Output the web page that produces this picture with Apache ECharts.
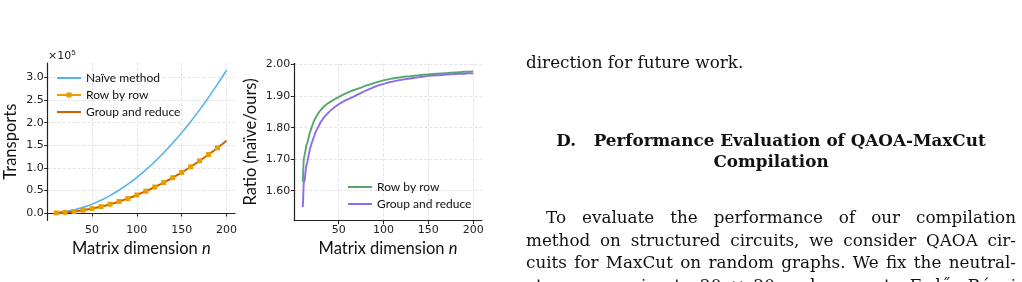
<!DOCTYPE html>
<html>
<head>
<meta charset="utf-8">
<script src="https://cdn.jsdelivr.net/npm/echarts@6/dist/echarts.min.js"></script>
<style>
  html, body { margin: 0; padding: 0; background: #fff; overflow: hidden; }
  #chart { position: absolute; left: 0; top: 0; width: 1022px; height: 282px; }
  .txt { position: absolute; left: 526px; width: 490px; font-family: 'DejaVu Serif', serif; font-size: 16.8px; color: #111; }
  .line { height: 22.5px; line-height: 22.5px; white-space: nowrap; text-align: justify; text-align-last: justify; }
  .head { font-weight: bold; text-align: center; line-height: 21px; font-size: 16.8px; }
</style>
</head>
<body>
<div id="chart"></div>
<div class="txt" style="top:51px"><div class="line" style="text-align-last:left">direction for future work.</div></div>
<div class="txt head" style="top:130px">D.&nbsp;&nbsp;&nbsp;Performance Evaluation of QAOA-MaxCut<br>Compilation</div>
<div class="txt" style="top:206px">
  <div class="line" style="padding-left:20px">To evaluate the performance of our compilation</div>
  <div class="line">method on structured circuits, we consider QAOA cir-</div>
  <div class="line">cuits for MaxCut on random graphs. We fix the neutral-</div>
  <div class="line">atom array size to 20 × 20 and generate Erdős–Rényi</div>
</div>
<script>
// left panel: transports vs matrix dimension
const dims = [10, 20, 30, 40, 50, 60, 70, 80, 90, 100, 110, 120, 130, 140, 150, 160, 170, 180, 190, 200]
const naive = [800, 3200, 7100, 12600, 19800, 28500, 38700, 50600, 64000, 79000,
  95600, 113800, 133500, 154900, 177800, 202300, 228300, 256000, 285200, 316000]
const rowByRow = [300, 1500, 3500, 6300, 9900, 14300, 19500, 25500, 32300, 40000,
  48400, 57600, 67500, 78300, 89900, 102300, 115500, 129500, 144300, 160000]
const groupReduce = [300, 1500, 3500, 6300, 9900, 14300, 19500, 25500, 32300, 40000,
  48400, 57600, 67500, 78300, 89900, 102300, 115500, 129500, 144300, 160000]

// right panel: ratio naive/ours
const ratioN = [10, 11, 12, 13, 14, 15, 16, 17, 18, 19, 20, 21, 22, 23, 24, 25, 26, 27, 28, 29, 30,
  32, 34, 36, 38, 40, 42, 44, 46, 48, 50, 52, 54, 56, 58, 60,
  65, 70, 75, 80, 85, 90, 95, 100, 105, 110, 115, 120, 125, 130, 135, 140, 145, 150,
  155, 160, 165, 170, 175, 180, 185, 190, 195, 200]
const ratioRow = [1.628, 1.700, 1.705, 1.728, 1.745, 1.752, 1.762, 1.775, 1.785, 1.790, 1.802,
  1.808, 1.818, 1.822, 1.830, 1.833, 1.840, 1.845, 1.849, 1.852, 1.856,
  1.862, 1.868, 1.872, 1.877, 1.880, 1.884, 1.887, 1.891, 1.894, 1.897, 1.900, 1.903, 1.906, 1.909, 1.911,
  1.917, 1.922, 1.927, 1.933, 1.937, 1.942, 1.946, 1.950, 1.953, 1.956, 1.958, 1.960, 1.962, 1.963,
  1.965, 1.966, 1.968, 1.969, 1.970, 1.971, 1.972, 1.973, 1.974, 1.975, 1.976, 1.977, 1.977, 1.978]
const ratioGroup = [1.548, 1.625, 1.632, 1.660, 1.680, 1.692, 1.705, 1.720, 1.732, 1.742, 1.752,
  1.760, 1.768, 1.776, 1.784, 1.790, 1.796, 1.802, 1.807, 1.812, 1.818,
  1.826, 1.834, 1.840, 1.846, 1.852, 1.857, 1.862, 1.866, 1.870, 1.874, 1.877, 1.881, 1.884, 1.887, 1.890,
  1.896, 1.903, 1.910, 1.917, 1.923, 1.929, 1.935, 1.939, 1.943, 1.946, 1.949, 1.952, 1.954, 1.956,
  1.958, 1.960, 1.962, 1.964, 1.965, 1.966, 1.967, 1.968, 1.969, 1.970, 1.971, 1.971, 1.972, 1.972]

const xTicks = [50, 100, 150, 200]
const transportTicks = [0, 50000, 100000, 150000, 200000, 250000, 300000]
const ratioTicks = [1.6, 1.7, 1.8, 1.9, 2.0]

const ink = '#222'
const tickFont = { fontFamily: 'DejaVu Sans', fontSize: 11, color: ink }
const titleRich = {
  t: { fontFamily: 'Lato', fontSize: 16.5, color: '#111' },
  i: { fontFamily: 'Lato', fontSize: 16.5, color: '#111', fontStyle: 'italic' }
}
const grid = { lineStyle: { color: '#dcdcdc', type: [3, 2], width: 0.8 } }

// legend icons: a plain line, or a line with a square marker (bbox pinned to 24x12)
const pin = 'M0,0 L0.01,0 L0,0.01 Z M23.99,12 L24,12 L24,11.99 Z '
const lineIcon = 'path://' + pin + 'M0,5.1 L24,5.1 L24,6.9 L0,6.9 Z'
const squareIcon = lineIcon + ' M9.5,3.5 L14.5,3.5 L14.5,8.5 L9.5,8.5 Z'

function xAxisFor (gridIndex) {
  return {
    type: 'value',
    gridIndex,
    min: 0.5,
    max: 209.5,
    axisLine: { lineStyle: { color: ink, width: 1.2 } },
    axisTick: { customValues: xTicks, length: 3.5, lineStyle: { color: ink } },
    axisLabel: { customValues: xTicks, margin: 4, ...tickFont },
    splitLine: { show: true, ...grid },
    name: '{t|Matrix dimension }{i|n}',
    nameLocation: 'middle',
    nameGap: 15,
    nameTextStyle: { rich: titleRich }
  }
}

function yAxisFor (gridIndex, min, max, ticks, fmt, name, gap) {
  return {
    type: 'value',
    gridIndex,
    min,
    max,
    axisLine: { show: true, lineStyle: { color: ink, width: 1.2 } },
    axisTick: { show: true, customValues: ticks, length: 3.5, lineStyle: { color: ink } },
    axisLabel: { customValues: ticks, margin: 4, formatter: fmt, ...tickFont },
    splitLine: { show: true, ...grid },
    name: '{t|' + name + '}',
    nameLocation: 'middle',
    nameGap: gap,
    nameTextStyle: { rich: titleRich }
  }
}

const pairs = (xs, ys) => xs.map((x, i) => [x, ys[i]])

const legendBase = {
  orient: 'vertical',
  padding: 0,
  itemWidth: 24,
  itemHeight: 12,
  itemGap: 5,
  textStyle: { fontFamily: 'Lato', fontSize: 12, color: '#111' }
}

const chart = echarts.init(document.getElementById('chart'), null, { renderer: 'canvas' })

chart.setOption({
  animation: false,
  grid: [
    { left: 47.7, right: 787, top: 63, bottom: 61.7 },
    { left: 294.3, right: 540.3, top: 63.3, bottom: 61.3 }
  ],
  xAxis: [xAxisFor(0), xAxisFor(1)],
  yAxis: [
    yAxisFor(0, -16000, 332000, transportTicks, v => (v / 1e5).toFixed(1), 'Transports', 29),
    yAxisFor(1, 1.505, 2.004, ratioTicks, v => v.toFixed(2), 'Ratio (naïve/ours)', 35)
  ],
  legend: [
    {
      ...legendBase,
      left: 57,
      top: 72,
      data: [
        { name: 'Naïve method', icon: lineIcon },
        { name: 'Row by row', icon: squareIcon },
        { name: 'Group and reduce', icon: lineIcon }
      ]
    },
    {
      ...legendBase,
      left: 348,
      top: 181,
      data: [
        { name: 'Row by row ', icon: lineIcon },
        { name: 'Group and reduce ', icon: lineIcon }
      ]
    }
  ],
  graphic: [{
    type: 'text',
    left: 48,
    top: 49,
    style: {
      text: '×10{s|5}',
      font: '11px "DejaVu Sans"',
      fill: ink,
      rich: { s: { fontSize: 8, verticalAlign: 'top', padding: [0, 0, 6, 0] } }
    }
  }],
  series: [
    {
      name: 'Naïve method',
      type: 'line',
      xAxisIndex: 0,
      yAxisIndex: 0,
      smooth: true,
      symbol: 'none',
      lineStyle: { color: '#56b4e9', width: 1.6 },
      itemStyle: { color: '#56b4e9' },
      data: pairs(dims, naive)
    },
    {
      name: 'Row by row',
      type: 'line',
      xAxisIndex: 0,
      yAxisIndex: 0,
      smooth: true,
      symbol: 'rect',
      symbolSize: 5,
      lineStyle: { color: '#e69f00', width: 1.6 },
      itemStyle: { color: '#e69f00' },
      data: pairs(dims, rowByRow).map(p => p[0] < 200 ? p : { value: p, symbol: 'none' })
    },
    {
      name: 'Group and reduce',
      type: 'line',
      xAxisIndex: 0,
      yAxisIndex: 0,
      smooth: true,
      symbol: 'none',
      lineStyle: { color: '#d55e00', width: 1.8 },
      itemStyle: { color: '#d55e00' },
      data: pairs(dims, groupReduce)
    },
    {
      name: 'Row by row ',
      type: 'line',
      xAxisIndex: 1,
      yAxisIndex: 1,
      symbol: 'none',
      lineStyle: { color: '#55a868', width: 1.9 },
      itemStyle: { color: '#55a868' },
      data: pairs(ratioN, ratioRow)
    },
    {
      name: 'Group and reduce ',
      type: 'line',
      xAxisIndex: 1,
      yAxisIndex: 1,
      symbol: 'none',
      lineStyle: { color: '#8c6cec', width: 1.9 },
      itemStyle: { color: '#8c6cec' },
      data: pairs(ratioN, ratioGroup)
    }
  ]
})
</script>
</body>
</html>
